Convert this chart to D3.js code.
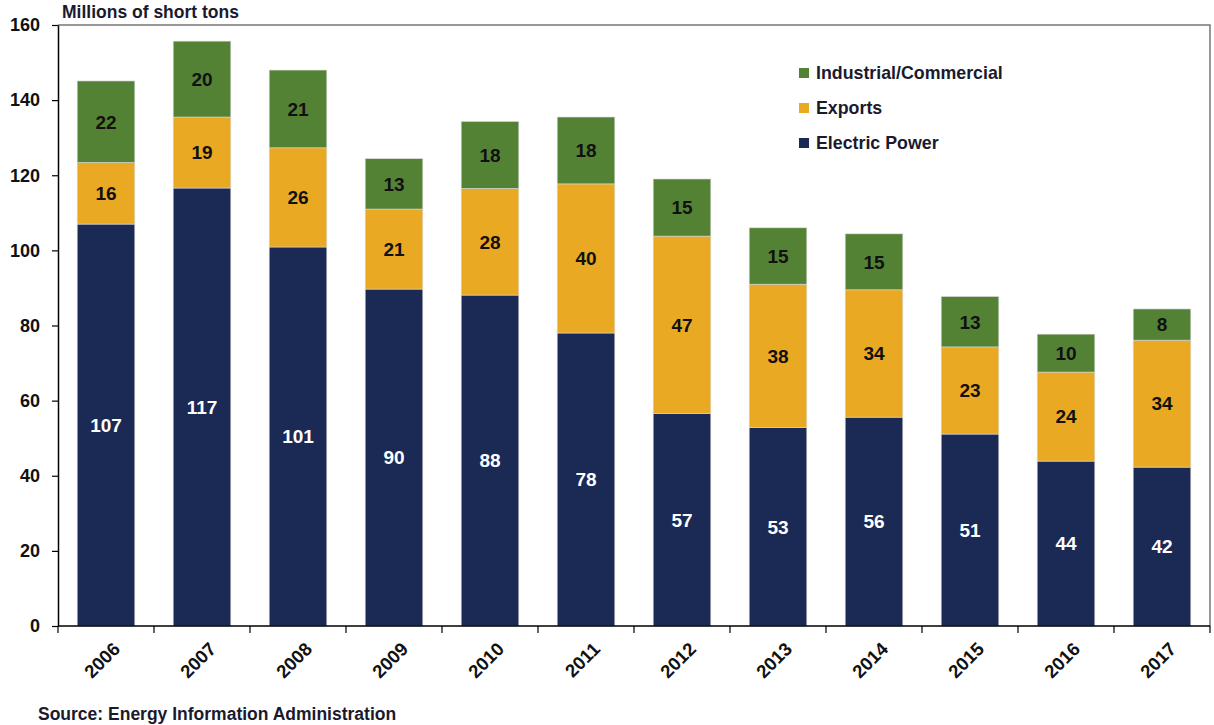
<!DOCTYPE html>
<html>
<head>
<meta charset="utf-8">
<script src="https://cdn.jsdelivr.net/npm/d3@7"></script>
<style>
  body { margin: 0; background: #fff; }
  svg text { font-family: Arial, "Liberation Sans", sans-serif; }
</style>
</head>
<body>
<div id="chart"></div>
<script>
// Data (millions of short tons)
const years = ["2006", "2007", "2008", "2009", "2010", "2011", "2012", "2013", "2014", "2015", "2016", "2017"];
const electricPower = [107.0, 116.6, 100.9, 89.7, 88.1, 78.0, 56.6, 52.8, 55.6, 51.1, 43.9, 42.3];
const exportsVals = [16.4, 18.9, 26.4, 21.3, 28.4, 39.7, 47.2, 38.2, 33.9, 23.2, 23.7, 33.8];
const industrial = [21.7, 20.2, 20.7, 13.4, 17.8, 17.8, 15.2, 15.0, 14.9, 13.4, 10.1, 8.3];
const yTicks = [0, 20, 40, 60, 80, 100, 120, 140, 160];

const seriesNames = ["Electric Power", "Exports", "Industrial/Commercial"];
const colors = {"Electric Power": "#1b2a55", "Exports": "#e9a923", "Industrial/Commercial": "#548235"};
const labelColors = {"Electric Power": "#fff", "Exports": "#111", "Industrial/Commercial": "#111"};

const rows = years.map((y, i) => ({
    year: y,
    "Electric Power": electricPower[i],
    "Exports": exportsVals[i],
    "Industrial/Commercial": industrial[i]
}));

const width = 1214, height = 725;
const margin = {top: 25, right: 4, bottom: 99, left: 58};
const innerW = width - margin.left - margin.right;
const innerH = height - margin.top - margin.bottom;

const svg = d3.select("#chart")
    .append("svg")
    .attr("width", width)
    .attr("height", height);

const g = svg.append("g")
    .attr("transform", "translate(" + margin.left + "," + margin.top + ")");

// Scales
const x = d3.scaleBand()
    .domain(years)
    .range([0, innerW])
    .paddingInner(0.4)
    .paddingOuter(0.2);

const y = d3.scaleLinear().domain([0, 160]).range([innerH, 0]);

// Plot frame (top and right)
g.append("path")
    .attr("d", "M0,0H" + innerW + "V" + innerH)
    .attr("fill", "none")
    .attr("stroke", "#777")
    .attr("stroke-width", 1.5);

// Stacked bars
const stacked = d3.stack().keys(seriesNames)(rows);

const layers = g.selectAll(".layer")
    .data(stacked)
    .enter().append("g")
    .attr("class", "layer")
    .attr("fill", d => colors[d.key]);

layers.selectAll("rect")
    .data(d => d)
    .enter().append("rect")
    .attr("x", d => x(d.data.year))
    .attr("y", d => y(d[1]))
    .attr("width", x.bandwidth())
    .attr("height", d => y(d[0]) - y(d[1]))
    .attr("stroke", "#d8d8d8")
    .attr("stroke-width", 0.6);

// Value labels (rounded)
layers.each(function(layer) {
    d3.select(this).selectAll("text")
        .data(layer)
        .enter().append("text")
        .attr("x", d => x(d.data.year) + x.bandwidth() / 2)
        .attr("y", d => (y(d[0]) + y(d[1])) / 2)
        .attr("dy", "0.36em")
        .attr("text-anchor", "middle")
        .attr("font-size", 19)
        .attr("font-weight", "bold")
        .attr("fill", labelColors[layer.key])
        .text(d => Math.round(d.data[layer.key]));
});

// Y axis
const yAxis = d3.axisLeft(y).tickValues(yTicks).tickSize(6).tickSizeOuter(0).tickPadding(12);
const yG = g.append("g").call(yAxis);
yG.select(".domain").attr("stroke", "#000").attr("stroke-width", 1.5);
yG.selectAll(".tick line").attr("stroke", "#000").attr("stroke-width", 1.2);
yG.selectAll(".tick text")
    .attr("font-size", 18)
    .attr("font-weight", "bold")
    .attr("fill", "#111")
    .attr("font-family", "Arial, 'Liberation Sans', sans-serif");

// X axis with ticks at band edges
const xG = g.append("g").attr("transform", "translate(0," + innerH + ")");
xG.append("line")
    .attr("x1", 0).attr("x2", innerW)
    .attr("stroke", "#000").attr("stroke-width", 1.5);
xG.selectAll(".xtick")
    .data(years.concat(["end"]))
    .enter().append("line")
    .attr("class", "xtick")
    .attr("x1", (d, i) => i * x.step())
    .attr("x2", (d, i) => i * x.step())
    .attr("y1", 0).attr("y2", 7)
    .attr("stroke", "#000").attr("stroke-width", 1.2);
xG.selectAll(".xlabel")
    .data(years)
    .enter().append("text")
    .attr("class", "xlabel")
    .attr("transform", d => "translate(" + (x(d) + x.bandwidth() / 2 + 6) + ",15) rotate(-45)")
    .attr("text-anchor", "end")
    .attr("dy", "0.7em")
    .attr("font-size", 18.5)
    .attr("font-weight", "bold")
    .attr("fill", "#111")
    .text(d => d);

// Axis title
svg.append("text")
    .attr("x", 62)
    .attr("y", 18)
    .attr("font-family", "Lato, 'Open Sans', sans-serif")
    .attr("font-size", 17.5)
    .attr("font-weight", "bold")
    .attr("fill", "#1a1a2e")
    .text("Millions of short tons");

// Legend
const legendItems = ["Industrial/Commercial", "Exports", "Electric Power"];
const legend = svg.append("g").attr("transform", "translate(799,73)");
legendItems.forEach((name, i) => {
    const row = legend.append("g").attr("transform", "translate(0," + i * 35 + ")");
    row.append("rect")
        .attr("x", 0).attr("y", -5)
        .attr("width", 10).attr("height", 10)
        .attr("fill", colors[name]);
    row.append("text")
        .attr("x", 17)
        .attr("y", 0)
        .attr("dy", "0.35em")
        .attr("font-family", "Lato, 'Open Sans', sans-serif")
        .attr("font-size", 17.8)
        .attr("font-weight", "bold")
        .attr("fill", "#1a1a2e")
        .text(name);
});

// Source
svg.append("text")
    .attr("x", 38)
    .attr("y", 720)
    .attr("font-family", "Lato, 'Open Sans', sans-serif")
    .attr("font-size", 17.5)
    .attr("font-weight", "bold")
    .attr("fill", "#1a1a2e")
    .text("Source: Energy Information Administration");
</script>
</body>
</html>
